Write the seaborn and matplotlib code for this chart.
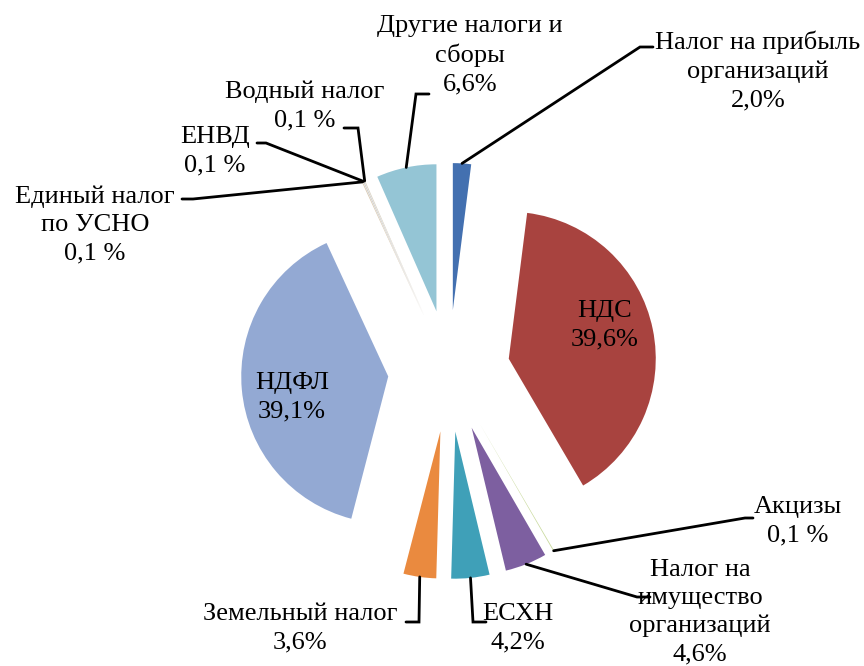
import matplotlib
matplotlib.use("Agg")
import matplotlib.pyplot as plt
import seaborn as sns
import numpy as np

# ---- data (clockwise from 12 o'clock) ----
categories = ["Налог на прибыль\nорганизаций", "НДС", "Акцизы",
              "Налог на\nимущество\nорганизаций", "ЕСХН", "Земельный налог",
              "НДФЛ", "Единый налог\nпо УСНО", "ЕНВД", "Водный налог",
              "Другие налоги и\nсборы"]
shares = [2.0, 39.6, 0.1, 4.6, 4.2, 3.6, 39.1, 0.1, 0.1, 0.1, 6.6]
slice_colors = ["#4370B0", "#A8433F", "#C9DA9E", "#7D5FA0", "#3FA0B8",
                "#EA8A3F", "#93A9D3", "#D8C9B2", "#C9C9C9", "#D9D2C4",
                "#94C5D5"]

# ---- layout (pixel positions, measured from the top-left) ----
W, H = 864, 666
pie_center_px = (449, 371)
pie_radius = 147
pie_explode = 61
label_xy = [(758, 71), (605, 325), (798, 521), (700, 612), (518, 628),
            (300, 628), (292, 397), (95, 225), (215, 151), (305, 106),
            (470, 55)]
leader_elbow = [(640, 47), None, (745, 518), (637, 597), (473, 622),
                (419, 622), None, (193, 199), (266, 143), (358, 128),
                (416, 94)]
leader_end = [(653, 47), None, (753, 518), (650, 597), (486, 622),
              (406, 622), None, (182, 199), (257, 143), (344, 128),
              (429, 94)]


def px(p):
    return (p[0], H - p[1])


def fmt_pct(v):
    s = f"{v:.1f}".replace(".", ",")
    return s + (" %" if v < 1 else "%")


sns.set_theme(style="white")
plt.rcParams["font.family"] = ["Liberation Serif", "DejaVu Serif"]

fig = plt.figure(figsize=(W / 100, H / 100), dpi=100)
ax = fig.add_axes([0, 0, 1, 1])

palette = sns.color_palette(slice_colors)
wedges, _ = ax.pie(shares, colors=palette, startangle=90, counterclock=False,
                   radius=pie_radius, center=px(pie_center_px),
                   explode=[pie_explode] * len(shares),
                   wedgeprops=dict(linewidth=0, antialiased=True))

ax.set_xlim(0, W)
ax.set_ylim(0, H)
ax.set_aspect("equal")
ax.axis("off")

for i, w in enumerate(wedges):
    text = categories[i] + "\n" + fmt_pct(shares[i])
    ax.text(*px(label_xy[i]), text, ha="center", va="center", fontsize=19,
            color="black", linespacing=1.35)
    if leader_elbow[i] is not None:
        tm = np.deg2rad((w.theta1 + w.theta2) / 2)
        cx, cy = w.center
        sx, sy = cx + w.r * np.cos(tm), cy + w.r * np.sin(tm)
        ex, ey = px(leader_elbow[i])
        fx, fy = px(leader_end[i])
        ax.plot([sx, ex, fx], [sy, ey, fy], color="black", lw=2.0,
                solid_joinstyle="miter")

fig.savefig("out.png", dpi=100, facecolor="white")
